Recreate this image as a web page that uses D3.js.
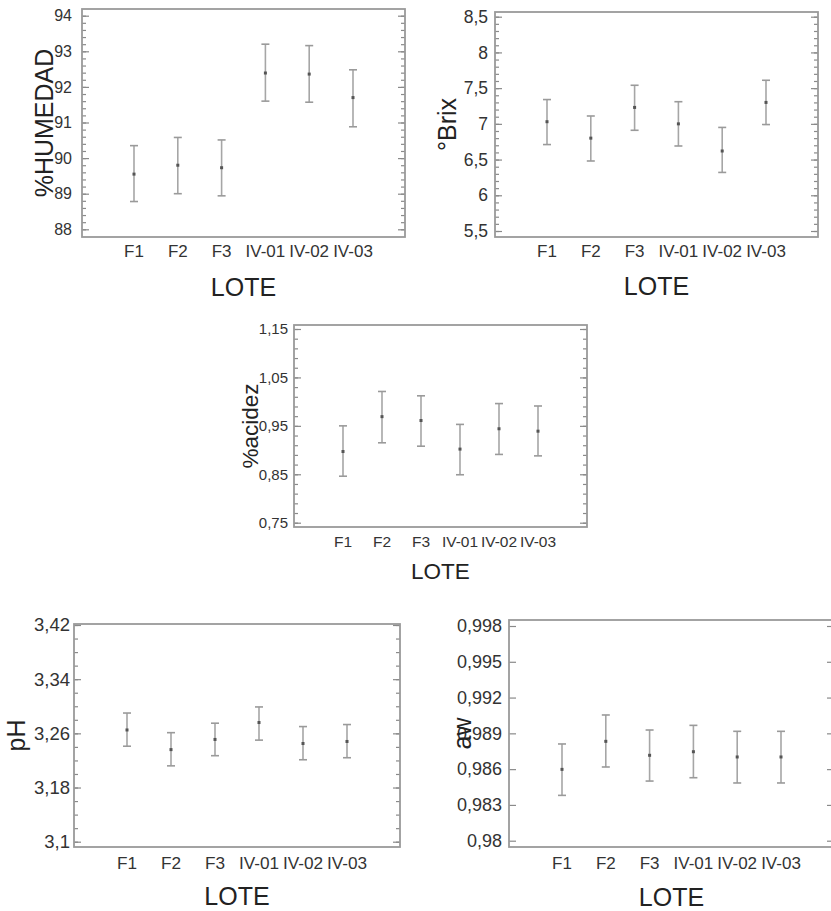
<!DOCTYPE html>
<html>
<head>
<meta charset="utf-8">
<script src="https://cdn.jsdelivr.net/npm/d3@7"></script>
<style>
  body { margin: 0; background: #fff; }
  text { font-family: "Liberation Sans", Arial, sans-serif; }
</style>
</head>
<body>
<div class="canvas"></div>
<script>
const lotes = ['F1', 'F2', 'F3', 'IV-01', 'IV-02', 'IV-03']

const humedadMean = [89.55, 89.80, 89.73, 92.39, 92.36, 91.70]
const humedadLow = [88.78, 89.00, 88.94, 91.60, 91.57, 90.88]
const humedadHigh = [90.35, 90.58, 90.51, 93.20, 93.16, 92.48]
const humedadTicks = [88, 89, 90, 91, 92, 93, 94]

const brixMean = [7.03, 6.80, 7.23, 7.00, 6.62, 7.30]
const brixLow = [6.71, 6.48, 6.91, 6.69, 6.32, 6.99]
const brixHigh = [7.34, 7.11, 7.54, 7.31, 6.95, 7.61]
const brixTicks = [5.5, 6, 6.5, 7, 7.5, 8, 8.5]

const acidezMean = [0.897, 0.969, 0.961, 0.902, 0.944, 0.939]
const acidezLow = [0.846, 0.915, 0.908, 0.849, 0.891, 0.888]
const acidezHigh = [0.950, 1.021, 1.012, 0.953, 0.996, 0.991]
const acidezTicks = [0.75, 0.85, 0.95, 1.05, 1.15]

const phMean = [3.265, 3.236, 3.251, 3.276, 3.245, 3.248]
const phLow = [3.241, 3.212, 3.227, 3.250, 3.221, 3.224]
const phHigh = [3.290, 3.261, 3.275, 3.299, 3.270, 3.273]
const phTicks = [3.1, 3.18, 3.26, 3.34, 3.42]

const awMean = [0.98598, 0.98833, 0.98716, 0.98746, 0.98702, 0.98702]
const awLow = [0.98380, 0.98618, 0.98500, 0.98528, 0.98484, 0.98484]
const awHigh = [0.98811, 0.99054, 0.98928, 0.98967, 0.98917, 0.98917]
const awTicks = [0.98, 0.983, 0.986, 0.989, 0.992, 0.995, 0.998]

const panels = [
  {title: '%HUMEDAD', mean: humedadMean, low: humedadLow, high: humedadHigh, ticks: humedadTicks, minor: 0.2,
   left: 82, right: 405, top: 9, bottom: 237, tTop: 15.7, tBot: 229.3, pad: 52, gap: 10,
   fsY: 16, fsX: 17, fsT: 25, catBase: 256.5, loteBase: 296, titleX: 53},
  {title: '°Brix', mean: brixMean, low: brixLow, high: brixHigh, ticks: brixTicks, minor: 0.1,
   left: 495, right: 818, top: 12, bottom: 237, tTop: 16.7, tBot: 231, pad: 52, gap: 7,
   fsY: 17.5, fsX: 17, fsT: 25, catBase: 257, loteBase: 295, titleX: 456},
  {title: '%acidez', mean: acidezMean, low: acidezLow, high: acidezHigh, ticks: acidezTicks, minor: 0.02,
   left: 294, right: 587, top: 325, bottom: 527, tTop: 329, tBot: 522.7, pad: 49, gap: 6,
   fsY: 15, fsX: 15.5, fsT: 22.5, catBase: 547, loteBase: 579, titleX: 258},
  {title: 'pH', mean: phMean, low: phLow, high: phHigh, ticks: phTicks, minor: 0.02,
   left: 74, right: 400, top: 624, bottom: 847, tTop: 625, tBot: 841.7, pad: 53, gap: 4,
   fsY: 18.5, fsX: 17.2, fsT: 25, catBase: 869, loteBase: 905, titleX: 25},
  {title: 'aw', mean: awMean, low: awLow, high: awHigh, ticks: awTicks, minor: null,
   left: 509, right: 834, top: 620, bottom: 847, tTop: 626, tBot: 840.7, pad: 53, gap: 7,
   fsY: 18, fsX: 17, fsT: 25, catBase: 869, loteBase: 906, titleX: 471}
]

const svg = d3.select('.canvas')
  .append('svg')
  .attr('width', 831)
  .attr('height', 911)

const fmt = v => String(v).replace('.', ',')

panels.forEach(p => {
  const g = svg.append('g')
  const ext = d3.extent(p.ticks)
  const y = d3.scaleLinear().domain(ext).range([p.tBot, p.tTop])
  const x = d3.scalePoint().domain(lotes).range([p.left + p.pad, p.right - p.pad])

  // minor ticks first, under the majors
  if (p.minor) {
    const minors = d3.range(ext[0], ext[1] + p.minor / 2, p.minor)
    g.append('g').attr('transform', `translate(${p.left},0)`)
      .call(d3.axisLeft(y).tickValues(minors).tickSizeInner(-4).tickSizeOuter(0).tickFormat(''))
      .call(a => a.select('.domain').remove())
    g.append('g').attr('transform', `translate(${p.right},0)`)
      .call(d3.axisRight(y).tickValues(minors).tickSizeInner(-4).tickSizeOuter(0).tickFormat(''))
      .call(a => a.select('.domain').remove())
  }

  const leftAxis = g.append('g').attr('transform', `translate(${p.left},0)`)
    .call(d3.axisLeft(y).tickValues(p.ticks).tickSizeInner(-7).tickSizeOuter(0).tickPadding(p.gap).tickFormat(fmt))
    .call(a => a.select('.domain').remove())
  leftAxis.selectAll('text')
    .attr('font-size', p.fsY)
    .attr('fill', '#333')
    .attr('font-family', '"Liberation Sans", Arial, sans-serif')

  g.append('g').attr('transform', `translate(${p.right},0)`)
    .call(d3.axisRight(y).tickValues(p.ticks).tickSizeInner(-7).tickSizeOuter(0).tickFormat(''))
    .call(a => a.select('.domain').remove())

  g.selectAll('.tick line').attr('stroke', '#8a8a8a').attr('stroke-width', 1.2)

  g.append('rect')
    .attr('x', p.left).attr('y', p.top)
    .attr('width', p.right - p.left).attr('height', p.bottom - p.top)
    .attr('fill', 'none')
    .attr('stroke', '#9a9a9a')
    .attr('stroke-width', 1.8)

  // error bars
  const bars = g.selectAll('.bar').data(lotes).enter().append('g').attr('class', 'bar')
  bars.append('line')
    .attr('x1', d => x(d)).attr('x2', d => x(d))
    .attr('y1', (d, i) => y(p.low[i])).attr('y2', (d, i) => y(p.high[i]))
    .attr('stroke', '#a6a6a6').attr('stroke-width', 1.6)
  bars.append('line')
    .attr('x1', d => x(d) - 4).attr('x2', d => x(d) + 4)
    .attr('y1', (d, i) => y(p.high[i])).attr('y2', (d, i) => y(p.high[i]))
    .attr('stroke', '#9a9a9a').attr('stroke-width', 1.6)
  bars.append('line')
    .attr('x1', d => x(d) - 4).attr('x2', d => x(d) + 4)
    .attr('y1', (d, i) => y(p.low[i])).attr('y2', (d, i) => y(p.low[i]))
    .attr('stroke', '#9a9a9a').attr('stroke-width', 1.6)
  bars.append('rect')
    .attr('x', d => x(d) - 1.5).attr('y', (d, i) => y(p.mean[i]) - 1.5)
    .attr('width', 3).attr('height', 3)
    .attr('fill', '#555')

  // category labels
  g.selectAll('.cat').data(lotes).enter().append('text')
    .attr('x', d => x(d)).attr('y', p.catBase)
    .attr('text-anchor', 'middle')
    .attr('font-size', p.fsX)
    .attr('fill', '#333')
    .text(d => d)

  g.append('text')
    .attr('x', (p.left + p.right) / 2).attr('y', p.loteBase)
    .attr('text-anchor', 'middle')
    .attr('font-size', p.fsT)
    .attr('fill', '#222')
    .text('LOTE')

  g.append('text')
    .attr('transform', `translate(${p.titleX},${(p.top + p.bottom) / 2}) rotate(-90)`)
    .attr('text-anchor', 'middle')
    .attr('font-size', p.fsT)
    .attr('fill', '#222')
    .text(p.title)
})
</script>
</body>
</html>
